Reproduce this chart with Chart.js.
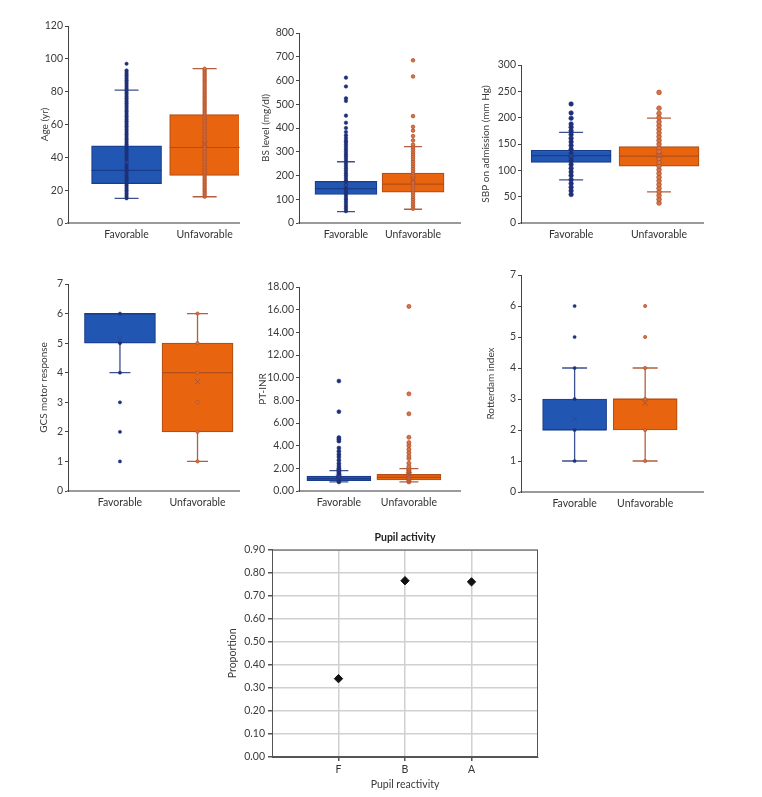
<!DOCTYPE html>
<html>
<head>
<meta charset="utf-8">
<script src="https://cdn.jsdelivr.net/npm/chart.js@4.4.1/dist/chart.umd.min.js"></script>
<style>
  html, body { margin: 0; padding: 0; background: #fff; }
  body { width: 762px; height: 797px; position: relative; overflow: hidden; }
  canvas { position: absolute; }
</style>
</head>
<body>
<script>
// groups on every box plot
const groups = ['Favorable', 'Unfavorable'];

// Age (yr)
const ageQ1 = [24, 29], ageMed = [32, 46], ageQ3 = [47, 66];
const ageLo = [15, 16], ageHi = [81, 94], ageMean = [37, 48];
const ageFav = [15,16,17,18,19,20,21,22,23,24,25,26,27,28,29,30,31,32,33,34,35,36,37,38,39,40,
  41,42,43,44,45,46,47,48,49,50,51,52,53,54,55,56,57,58,59,60,61,62,63,64,65,66,67,68,69,70,
  71,72,73,74,75,76,77,78,79,80,81,82,83,84,85,86,87,88,89,90,91,92,93,97];
const ageUnf = [16,17,18,19,20,21,22,23,24,25,26,27,28,29,30,31,32,33,34,35,36,37,38,39,40,
  41,42,43,44,45,46,47,48,49,50,51,52,53,54,55,56,57,58,59,60,61,62,63,64,65,66,67,68,69,70,
  71,72,73,74,75,76,77,78,79,80,81,82,83,84,85,86,87,88,89,90,91,92,93,94];

// BS level (mg/dl)
const bsQ1 = [120, 130], bsMed = [145, 164], bsQ3 = [175, 210];
const bsLo = [48, 58], bsHi = [258, 322], bsMean = [160, 182];
const bsFav = [50,60,70,80,90,100,110,120,130,140,150,160,170,180,190,200,210,220,230,240,250,
  260,270,280,290,300,310,320,330,340,347,358,369,383,400,422,452,514,525,575,612];
const bsUnf = [60,70,80,90,100,110,120,130,140,150,160,170,180,190,200,210,220,230,240,250,
  260,270,280,290,300,310,320,330,348,366,389,405,450,617,685];

// SBP on admission (mm Hg)
const sbpQ1 = [115, 108], sbpMed = [128, 127], sbpQ3 = [138, 145];
const sbpLo = [82, 59], sbpHi = [172, 199], sbpMean = [127, 128];
const sbpFav = [54,61,68,75,82,90,97,104,111,118,125,132,140,147,154,161,168,175,182,188,
  199,209,226];
const sbpUnf = [38,45,52,59,66,73,80,87,94,101,108,115,122,129,136,143,150,157,164,171,178,
  185,192,200,208,218,248];

// GCS motor response
const gcsQ1 = [5, 2], gcsMed = [6, 4], gcsQ3 = [6, 5];
const gcsLo = [4, 1], gcsHi = [6, 6], gcsMean = [5.15, 3.7];
const gcsFav = [1, 2, 3, 4, 5, 6];
const gcsUnf = [1, 2, 3, 4, 5, 6];

// PT-INR
const inrQ1 = [0.92, 0.97], inrMed = [1.1, 1.2], inrQ3 = [1.32, 1.46];
const inrLo = [0.8, 0.8], inrHi = [1.8, 1.97], inrMean = [1.2, 1.4];
const inrFav = [0.8,0.9,1.0,1.1,1.2,1.3,1.4,1.5,1.6,1.7,1.8,1.9,2.0,2.2,2.43,2.72,3.0,3.23,3.5,
  3.8,4.4,4.57,4.72,7.0,9.7];
const inrUnf = [0.8,0.9,1.0,1.1,1.2,1.3,1.4,1.5,1.6,1.7,1.8,1.9,2.0,2.15,2.45,2.86,3.09,3.39,
  3.68,4.0,4.27,4.74,6.81,8.57,16.29];

// Rotterdam index
const rotQ1 = [2, 2], rotMed = [2, 3], rotQ3 = [3, 3];
const rotLo = [1, 1], rotHi = [4, 4], rotMean = [2.35, 2.87];
const rotFav = [1, 2, 3, 4, 5, 6];
const rotUnf = [1, 2, 3, 4, 5, 6];

// Pupil activity
const pupilCats = ['F', 'B', 'A'];
const pupilProp = [0.34, 0.765, 0.76];
const propTicks = [0, 0.1, 0.2, 0.3, 0.4, 0.5, 0.6, 0.7, 0.8, 0.9];

Chart.defaults.font.family = 'Lato, "Open Sans", sans-serif';
Chart.defaults.font.size = 10.5;
Chart.defaults.color = '#3a3a3a';
Chart.defaults.animation = false;

const FILL = ['#2157b3', '#e8640f'];
const EDGE = ['#193d8c', '#b24e16'];
const WHISK = ['#3d5090', '#b0603e'];
const DOT = ['#1e3079', '#b64f27'];
const DOT_IN = ['#1e3079', '#d2774a'];
const MEAN = ['#2c4a98', '#b5532a'];

function place(f) {
  const c = document.createElement('canvas');
  c.width = f.w; c.height = f.h;
  c.style.left = f.left + 'px';
  c.style.top = f.top + 'px';
  document.body.appendChild(c);
  return c;
}

// whiskers and median over the box
const boxParts = {
  id: 'boxParts',
  afterDatasetDraw(chart, args, o) {
    if (args.index !== 0 || !o.med) return;
    const { ctx, scales: { y } } = chart;
    const bars = chart.getDatasetMeta(0).data;
    ctx.save();
    bars.forEach((bar, i) => {
      const cx = bar.x, half = bar.width / 2, cap = o.capW / 2;
      const yHi = y.getPixelForValue(o.hi[i]), yLo = y.getPixelForValue(o.lo[i]);
      ctx.strokeStyle = WHISK[i];
      ctx.lineWidth = 1.3;
      ctx.beginPath();
      ctx.moveTo(cx, y.getPixelForValue(o.q3[i])); ctx.lineTo(cx, yHi);
      ctx.moveTo(cx, y.getPixelForValue(o.q1[i])); ctx.lineTo(cx, yLo);
      ctx.moveTo(cx - cap, yHi); ctx.lineTo(cx + cap, yHi);
      ctx.moveTo(cx - cap, yLo); ctx.lineTo(cx + cap, yLo);
      ctx.stroke();
      const ym = y.getPixelForValue(o.med[i]);
      ctx.strokeStyle = EDGE[i];
      ctx.lineWidth = 1.2;
      ctx.beginPath();
      ctx.moveTo(cx - half, ym); ctx.lineTo(cx + half, ym);
      ctx.stroke();
    });
    ctx.restore();
  }
};

function boxChart(f, s) {
  new Chart(place(f), {
    type: 'scatter',
    plugins: [boxParts],
    data: {
      datasets: [
        {
          type: 'bar',
          data: s.q1.map((v, i) => ({ x: i + 1, y: [v, s.q3[i]] })),
          backgroundColor: FILL, borderColor: EDGE, borderWidth: 1.2,
          borderSkipped: false, barThickness: f.boxW, order: 4
        },
        {
          data: s.fav.map(v => ({ x: 1, y: v })),
          pointRadius: f.dot, backgroundColor: DOT[0], borderColor: DOT[0], borderWidth: 0.5, order: 3
        },
        {
          data: s.unf.map(v => ({ x: 2, y: v })),
          pointRadius: f.dot, backgroundColor: DOT_IN[1], borderColor: DOT[1], borderWidth: 0.8, order: 2
        },
        {
          data: s.mean.map((v, i) => ({ x: i + 1, y: v })),
          pointStyle: 'crossRot', pointRadius: 4, borderColor: MEAN, borderWidth: 1, order: 1
        }
      ]
    },
    options: {
      responsive: false,
      layout: { padding: { top: f.padTop, right: f.padRight, left: 0, bottom: 0 } },
      plugins: {
        legend: { display: false },
        tooltip: { enabled: false },
        boxParts: { q1: s.q1, q3: s.q3, med: s.med, lo: s.lo, hi: s.hi, capW: f.capW }
      },
      scales: {
        x: {
          type: 'linear', min: f.xMin, max: f.xMax, offset: false,
          afterBuildTicks: sc => { sc.ticks = groups.map((g, i) => ({ value: i + 1 })); },
          afterFit: sc => { sc.height = 30; },
          ticks: { callback: v => groups[v - 1], padding: 5, color: '#333', font: { size: 10.5 } },
          grid: { display: false, drawTicks: false },
          border: { color: '#9a9a9a', width: 2 }
        },
        y: {
          min: 0, max: s.max,
          afterFit: sc => { sc.width = f.yW; },
          ticks: { stepSize: s.step, padding: 2, callback: s.fmt || (v => v) },
          grid: { drawOnChartArea: false, tickLength: 3, color: '#444', tickColor: '#444' },
          border: { color: '#444', width: 1 },
          title: { display: true, text: s.title, font: { size: 10 }, padding: { top: 4, bottom: 4 } }
        }
      }
    }
  });
}

boxChart({ left: 35, top: 8, w: 215, h: 245, yW: 33, padTop: 18, padRight: 11, xMin: 0.25, xMax: 2.44, boxW: 70, capW: 24, dot: 1.7 },
  { title: 'Age (yr)', max: 120, step: 20, q1: ageQ1, med: ageMed, q3: ageQ3, lo: ageLo, hi: ageHi, mean: ageMean, fav: ageFav, unf: ageUnf });
boxChart({ left: 256, top: 8, w: 214, h: 245, yW: 43, padTop: 25, padRight: 10, xMin: 0.30, xMax: 2.70, boxW: 62, capW: 18, dot: 1.8 },
  { title: 'BS level (mg/dl)', max: 800, step: 100, q1: bsQ1, med: bsMed, q3: bsQ3, lo: bsLo, hi: bsHi, mean: bsMean, fav: bsFav, unf: bsUnf });
boxChart({ left: 476, top: 8, w: 237, h: 245, yW: 45, padTop: 57, padRight: 10, xMin: 0.43, xMax: 2.5, boxW: 80, capW: 24, dot: 2.3 },
  { title: 'SBP on admission (mm Hg)', max: 300, step: 50, q1: sbpQ1, med: sbpMed, q3: sbpQ3, lo: sbpLo, hi: sbpHi, mean: sbpMean, fav: sbpFav, unf: sbpUnf });
boxChart({ left: 34, top: 270, w: 216, h: 251, yW: 34, padTop: 14, padRight: 11, xMin: 0.33, xMax: 2.535, boxW: 71, capW: 21, dot: 1.6 },
  { title: 'GCS motor response', max: 7, step: 1, q1: gcsQ1, med: gcsMed, q3: gcsQ3, lo: gcsLo, hi: gcsHi, mean: gcsMean, fav: gcsFav, unf: gcsUnf });
boxChart({ left: 253, top: 270, w: 217, h: 251, yW: 46, padTop: 17, padRight: 10, xMin: 0.43, xMax: 2.73, boxW: 64, capW: 19, dot: 2 },
  { title: 'PT-INR', max: 18, step: 2, fmt: v => v.toFixed(2), q1: inrQ1, med: inrMed, q3: inrQ3, lo: inrLo, hi: inrHi, mean: inrMean, fav: inrFav, unf: inrUnf });
boxChart({ left: 481, top: 265, w: 232, h: 257, yW: 40, padTop: 10, padRight: 10, xMin: 0.24, xMax: 2.82, boxW: 64, capW: 25, dot: 1.6 },
  { title: 'Rotterdam index', max: 7, step: 1, q1: rotQ1, med: rotMed, q3: rotQ3, lo: rotLo, hi: rotHi, mean: rotMean, fav: rotFav, unf: rotUnf });

// frame around the pupil plot area
const plotFrame = {
  id: 'plotFrame',
  afterDraw(chart) {
    const { ctx, chartArea: a } = chart;
    ctx.save();
    ctx.strokeStyle = '#555';
    ctx.lineWidth = 1;
    ctx.strokeRect(a.left + 0.5, a.top + 0.5, a.right - a.left - 1, a.bottom - a.top - 1);
    ctx.restore();
  }
};

new Chart(place({ left: 222, top: 531, w: 326, h: 266 }), {
  type: 'scatter',
  plugins: [plotFrame],
  data: {
    datasets: [{
      data: pupilProp.map((v, i) => ({ x: i + 1, y: v })),
      pointStyle: 'rectRot', pointRadius: 4.2, backgroundColor: '#111', borderColor: '#111'
    }]
  },
  options: {
    responsive: false,
    layout: { padding: { top: 0, right: 10, left: 0, bottom: 0 } },
    plugins: {
      legend: { display: false },
      tooltip: { enabled: false },
      title: { display: true, text: 'Pupil activity', fullSize: false, color: '#222',
        font: { size: 10.5, weight: 'bold' }, padding: { top: 0, bottom: 6 } }
    },
    scales: {
      x: {
        type: 'linear', min: 0, max: pupilCats.length + 1,
        afterBuildTicks: sc => { sc.ticks = pupilCats.map((c, i) => ({ value: i + 1 })); },
        afterFit: sc => { sc.height = 40; },
        ticks: { callback: v => pupilCats[v - 1], padding: 2, color: '#333', font: { size: 10.5 } },
        grid: { color: '#d0d0d0', lineWidth: 1.5, tickLength: 4, tickColor: '#555' },
        border: { color: '#555' },
        title: { display: true, text: 'Pupil reactivity', font: { size: 10.5 }, padding: { top: 2, bottom: 6 } }
      },
      y: {
        min: 0, max: 0.9,
        afterBuildTicks: sc => { sc.ticks = propTicks.map(v => ({ value: v })); },
        afterFit: sc => { sc.width = 50; },
        ticks: { callback: v => v.toFixed(2), padding: 3 },
        grid: { color: '#d0d0d0', lineWidth: 1.5, tickLength: 4, tickColor: '#555' },
        border: { color: '#555' },
        title: { display: true, text: 'Proportion', font: { size: 10.5 }, padding: { top: 4, bottom: 4 } }
      }
    }
  }
});
</script>
</body>
</html>
